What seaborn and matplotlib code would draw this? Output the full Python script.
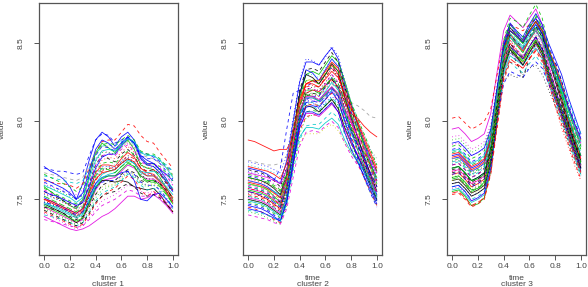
import matplotlib
matplotlib.use("Agg")
import matplotlib.pyplot as plt
import seaborn as sns
import pandas as pd

# ---------------- data ----------------
time_grid = [0.0, 0.05, 0.10, 0.15, 0.20, 0.25, 0.30, 0.35, 0.40, 0.45, 0.50,
             0.55, 0.60, 0.65, 0.70, 0.75, 0.80, 0.85, 0.90, 0.95, 1.0]

cluster1 = [
    [7.71, 7.68, 7.66, 7.63, 7.58, 7.50, 7.60, 7.75, 7.88, 7.93, 7.90, 7.84, 7.90, 7.93, 7.88, 7.78, 7.75, 7.73, 7.69, 7.66, 7.62],
    [7.70, 7.69, 7.68, 7.68, 7.67, 7.66, 7.67, 7.78, 7.88, 7.92, 7.91, 7.86, 7.88, 7.90, 7.86, 7.80, 7.79, 7.77, 7.74, 7.71, 7.68],
    [7.62, 7.61, 7.60, 7.60, 7.59, 7.57, 7.60, 7.70, 7.80, 7.87, 7.88, 7.88, 7.93, 7.98, 7.97, 7.91, 7.87, 7.86, 7.80, 7.75, 7.70],
    [7.65, 7.64, 7.63, 7.62, 7.61, 7.60, 7.62, 7.70, 7.79, 7.84, 7.85, 7.84, 7.87, 7.89, 7.85, 7.80, 7.79, 7.78, 7.75, 7.72, 7.68],
    [7.58, 7.55, 7.52, 7.49, 7.46, 7.44, 7.50, 7.65, 7.80, 7.86, 7.83, 7.80, 7.85, 7.88, 7.82, 7.72, 7.70, 7.69, 7.64, 7.57, 7.50],
    [7.60, 7.58, 7.57, 7.56, 7.55, 7.53, 7.56, 7.66, 7.76, 7.81, 7.80, 7.78, 7.83, 7.86, 7.83, 7.75, 7.72, 7.73, 7.70, 7.65, 7.60],
    [7.55, 7.53, 7.51, 7.49, 7.47, 7.45, 7.48, 7.60, 7.72, 7.78, 7.76, 7.74, 7.79, 7.82, 7.78, 7.70, 7.68, 7.69, 7.66, 7.60, 7.55],
    [7.50, 7.48, 7.46, 7.44, 7.42, 7.39, 7.42, 7.55, 7.67, 7.72, 7.72, 7.71, 7.76, 7.80, 7.77, 7.70, 7.67, 7.66, 7.62, 7.57, 7.51],
    [7.53, 7.52, 7.50, 7.48, 7.46, 7.44, 7.46, 7.56, 7.66, 7.71, 7.71, 7.70, 7.74, 7.77, 7.74, 7.68, 7.66, 7.66, 7.63, 7.59, 7.55],
    [7.48, 7.46, 7.44, 7.42, 7.40, 7.38, 7.40, 7.50, 7.60, 7.66, 7.68, 7.69, 7.73, 7.76, 7.73, 7.67, 7.65, 7.65, 7.62, 7.58, 7.53],
    [7.57, 7.55, 7.53, 7.51, 7.49, 7.47, 7.49, 7.58, 7.68, 7.73, 7.74, 7.73, 7.77, 7.81, 7.79, 7.73, 7.72, 7.73, 7.71, 7.67, 7.62],
    [7.45, 7.43, 7.41, 7.39, 7.37, 7.35, 7.37, 7.46, 7.56, 7.62, 7.63, 7.64, 7.68, 7.72, 7.70, 7.65, 7.63, 7.63, 7.60, 7.55, 7.49],
    [7.47, 7.45, 7.43, 7.41, 7.38, 7.35, 7.38, 7.48, 7.58, 7.62, 7.62, 7.61, 7.62, 7.61, 7.58, 7.57, 7.56, 7.57, 7.53, 7.47, 7.42],
    [7.39, 7.37, 7.35, 7.33, 7.31, 7.30, 7.31, 7.33, 7.36, 7.39, 7.41, 7.44, 7.48, 7.52, 7.52, 7.50, 7.51, 7.53, 7.50, 7.46, 7.41],
    [7.42, 7.40, 7.38, 7.36, 7.34, 7.32, 7.34, 7.40, 7.47, 7.52, 7.55, 7.57, 7.61, 7.65, 7.63, 7.56, 7.52, 7.55, 7.52, 7.47, 7.42],
    [7.51, 7.49, 7.47, 7.45, 7.43, 7.41, 7.44, 7.52, 7.60, 7.64, 7.65, 7.65, 7.67, 7.68, 7.62, 7.50, 7.49, 7.53, 7.54, 7.50, 7.45],
    [7.44, 7.42, 7.40, 7.38, 7.36, 7.34, 7.36, 7.43, 7.51, 7.56, 7.58, 7.59, 7.63, 7.67, 7.65, 7.60, 7.58, 7.59, 7.57, 7.53, 7.48],
    [7.40, 7.39, 7.38, 7.37, 7.35, 7.33, 7.35, 7.42, 7.49, 7.54, 7.56, 7.58, 7.62, 7.66, 7.64, 7.59, 7.56, 7.57, 7.55, 7.50, 7.44],
    [7.56, 7.54, 7.52, 7.50, 7.48, 7.46, 7.49, 7.60, 7.72, 7.78, 7.79, 7.78, 7.82, 7.85, 7.81, 7.74, 7.72, 7.73, 7.70, 7.65, 7.59],
    [7.49, 7.47, 7.45, 7.43, 7.41, 7.38, 7.41, 7.52, 7.63, 7.69, 7.70, 7.69, 7.73, 7.76, 7.73, 7.66, 7.63, 7.63, 7.60, 7.55, 7.49],
    [7.54, 7.52, 7.50, 7.48, 7.46, 7.43, 7.46, 7.57, 7.69, 7.75, 7.77, 7.76, 7.80, 7.84, 7.80, 7.72, 7.70, 7.71, 7.67, 7.62, 7.56],
    [7.46, 7.44, 7.42, 7.40, 7.38, 7.36, 7.38, 7.47, 7.57, 7.63, 7.65, 7.65, 7.69, 7.73, 7.71, 7.65, 7.62, 7.62, 7.59, 7.54, 7.47],
    [7.61, 7.59, 7.57, 7.55, 7.53, 7.50, 7.53, 7.65, 7.78, 7.84, 7.83, 7.81, 7.86, 7.90, 7.86, 7.78, 7.76, 7.76, 7.73, 7.68, 7.63],
    [7.52, 7.51, 7.50, 7.49, 7.48, 7.47, 7.49, 7.56, 7.64, 7.69, 7.71, 7.72, 7.75, 7.78, 7.76, 7.71, 7.70, 7.71, 7.69, 7.66, 7.61],
    [7.43, 7.41, 7.39, 7.37, 7.35, 7.33, 7.35, 7.41, 7.48, 7.52, 7.54, 7.55, 7.58, 7.60, 7.58, 7.54, 7.52, 7.53, 7.51, 7.47, 7.42],
    [7.50, 7.49, 7.47, 7.45, 7.43, 7.41, 7.44, 7.54, 7.63, 7.67, 7.68, 7.69, 7.73, 7.76, 7.74, 7.68, 7.65, 7.65, 7.61, 7.55, 7.48],
    [7.41, 7.39, 7.37, 7.35, 7.33, 7.31, 7.33, 7.38, 7.44, 7.49, 7.51, 7.53, 7.56, 7.59, 7.58, 7.55, 7.54, 7.55, 7.53, 7.49, 7.44],
    [7.66, 7.64, 7.62, 7.60, 7.58, 7.55, 7.58, 7.68, 7.79, 7.85, 7.86, 7.85, 7.88, 7.91, 7.88, 7.81, 7.79, 7.79, 7.76, 7.71, 7.65],
    [7.55, 7.53, 7.52, 7.50, 7.48, 7.46, 7.48, 7.58, 7.70, 7.77, 7.79, 7.79, 7.84, 7.89, 7.86, 7.77, 7.73, 7.73, 7.69, 7.63, 7.56],
    [7.47, 7.46, 7.45, 7.43, 7.41, 7.39, 7.41, 7.49, 7.58, 7.64, 7.66, 7.67, 7.71, 7.75, 7.73, 7.68, 7.67, 7.68, 7.66, 7.62, 7.57],
    [7.58, 7.57, 7.56, 7.54, 7.52, 7.50, 7.52, 7.62, 7.74, 7.80, 7.80, 7.79, 7.83, 7.87, 7.84, 7.76, 7.73, 7.72, 7.68, 7.62, 7.56],
    [7.45, 7.44, 7.43, 7.41, 7.39, 7.37, 7.39, 7.45, 7.53, 7.59, 7.61, 7.62, 7.66, 7.69, 7.67, 7.62, 7.61, 7.62, 7.60, 7.56, 7.51],
    [7.63, 7.61, 7.59, 7.57, 7.54, 7.50, 7.54, 7.68, 7.82, 7.88, 7.86, 7.82, 7.86, 7.90, 7.86, 7.76, 7.72, 7.71, 7.67, 7.61, 7.55],
    [7.50, 7.48, 7.46, 7.44, 7.42, 7.40, 7.43, 7.52, 7.62, 7.68, 7.70, 7.70, 7.74, 7.78, 7.76, 7.70, 7.68, 7.69, 7.66, 7.61, 7.56],
    [7.37, 7.36, 7.35, 7.34, 7.33, 7.32, 7.33, 7.37, 7.42, 7.46, 7.48, 7.50, 7.53, 7.56, 7.55, 7.52, 7.52, 7.54, 7.52, 7.48, 7.43],
    [7.59, 7.57, 7.55, 7.53, 7.51, 7.48, 7.51, 7.63, 7.75, 7.81, 7.82, 7.81, 7.85, 7.89, 7.87, 7.80, 7.78, 7.78, 7.75, 7.70, 7.64],
    [7.52, 7.50, 7.48, 7.46, 7.44, 7.42, 7.45, 7.55, 7.65, 7.70, 7.69, 7.67, 7.71, 7.74, 7.71, 7.64, 7.61, 7.61, 7.58, 7.53, 7.47],
    [7.44, 7.43, 7.41, 7.39, 7.37, 7.35, 7.38, 7.46, 7.54, 7.58, 7.59, 7.60, 7.64, 7.68, 7.66, 7.61, 7.59, 7.60, 7.58, 7.54, 7.50],
    [7.67, 7.66, 7.65, 7.64, 7.63, 7.62, 7.64, 7.72, 7.80, 7.84, 7.84, 7.83, 7.85, 7.87, 7.84, 7.79, 7.77, 7.76, 7.73, 7.70, 7.66],
    [7.48, 7.47, 7.46, 7.44, 7.42, 7.40, 7.42, 7.49, 7.57, 7.61, 7.62, 7.62, 7.65, 7.68, 7.66, 7.61, 7.59, 7.59, 7.56, 7.51, 7.45],
]

cluster2 = [
    [7.70, 7.69, 7.68, 7.66, 7.63, 7.60, 7.75, 8.00, 8.25, 8.38, 8.38, 8.36, 8.42, 8.47, 8.40, 8.24, 8.10, 7.98, 7.86, 7.74, 7.62],
    [7.88, 7.87, 7.85, 7.83, 7.81, 7.82, 7.82, 7.90, 8.05, 8.18, 8.20, 8.19, 8.23, 8.27, 8.22, 8.12, 8.05, 8.02, 7.97, 7.93, 7.90],
    [7.75, 7.74, 7.73, 7.72, 7.72, 7.73, 7.78, 7.95, 8.10, 8.18, 8.18, 8.16, 8.20, 8.24, 8.20, 8.14, 8.12, 8.10, 8.07, 8.03, 8.02],
    [7.65, 7.64, 7.63, 7.62, 7.62, 7.70, 7.95, 8.18, 8.20, 8.22, 8.25, 8.26, 8.30, 8.35, 8.30, 8.18, 8.06, 7.96, 7.86, 7.77, 7.68],
    [7.60, 7.59, 7.58, 7.56, 7.52, 7.48, 7.62, 7.88, 8.15, 8.30, 8.32, 8.30, 8.36, 8.42, 8.38, 8.26, 8.12, 7.98, 7.84, 7.72, 7.60],
    [7.55, 7.54, 7.52, 7.50, 7.47, 7.44, 7.58, 7.84, 8.10, 8.24, 8.26, 8.24, 8.30, 8.36, 8.30, 8.15, 8.00, 7.86, 7.74, 7.62, 7.52],
    [7.58, 7.57, 7.56, 7.54, 7.51, 7.48, 7.60, 7.82, 8.04, 8.16, 8.18, 8.17, 8.22, 8.27, 8.21, 8.08, 7.95, 7.84, 7.74, 7.64, 7.55],
    [7.66, 7.65, 7.64, 7.63, 7.60, 7.57, 7.67, 7.86, 8.05, 8.14, 8.14, 8.12, 8.16, 8.20, 8.15, 8.04, 7.94, 7.86, 7.78, 7.70, 7.62],
    [7.52, 7.51, 7.50, 7.48, 7.45, 7.42, 7.55, 7.80, 8.02, 8.12, 8.12, 8.10, 8.15, 8.20, 8.14, 8.00, 7.88, 7.78, 7.68, 7.58, 7.49],
    [7.62, 7.61, 7.60, 7.58, 7.55, 7.51, 7.64, 7.90, 8.17, 8.33, 8.31, 8.26, 8.33, 8.40, 8.35, 8.20, 8.04, 7.90, 7.76, 7.64, 7.53],
    [7.48, 7.47, 7.46, 7.44, 7.41, 7.38, 7.50, 7.74, 7.96, 8.06, 8.07, 8.06, 8.10, 8.14, 8.09, 7.96, 7.86, 7.77, 7.68, 7.59, 7.50],
    [7.50, 7.49, 7.48, 7.46, 7.43, 7.40, 7.52, 7.76, 8.00, 8.10, 8.09, 8.06, 8.10, 8.14, 8.08, 7.96, 7.86, 7.78, 7.70, 7.60, 7.50],
    [7.45, 7.44, 7.42, 7.40, 7.37, 7.35, 7.48, 7.72, 7.94, 8.03, 8.04, 8.04, 8.08, 8.12, 8.06, 7.93, 7.82, 7.73, 7.64, 7.55, 7.46],
    [7.57, 7.56, 7.55, 7.53, 7.50, 7.47, 7.59, 7.82, 8.05, 8.15, 8.15, 8.13, 8.18, 8.22, 8.16, 8.04, 7.93, 7.85, 7.76, 7.67, 7.58],
    [7.60, 7.59, 7.58, 7.57, 7.55, 7.53, 7.60, 7.75, 7.90, 7.96, 7.96, 7.95, 7.99, 8.02, 7.98, 7.88, 7.80, 7.74, 7.68, 7.62, 7.56],
    [7.68, 7.67, 7.66, 7.65, 7.63, 7.61, 7.70, 7.88, 8.06, 8.14, 8.12, 8.08, 8.12, 8.16, 8.12, 8.02, 7.94, 7.87, 7.80, 7.73, 7.66],
    [7.42, 7.41, 7.40, 7.38, 7.36, 7.34, 7.46, 7.70, 7.92, 8.02, 8.04, 8.05, 8.10, 8.15, 8.10, 7.98, 7.86, 7.75, 7.64, 7.54, 7.46],
    [7.54, 7.53, 7.52, 7.50, 7.47, 7.44, 7.57, 7.82, 8.06, 8.18, 8.20, 8.20, 8.25, 8.30, 8.24, 8.10, 7.97, 7.86, 7.76, 7.66, 7.56],
    [7.63, 7.62, 7.61, 7.60, 7.58, 7.55, 7.64, 7.85, 8.06, 8.16, 8.17, 8.16, 8.21, 8.26, 8.21, 8.09, 7.99, 7.91, 7.83, 7.75, 7.67],
    [7.40, 7.39, 7.38, 7.37, 7.35, 7.34, 7.44, 7.64, 7.84, 7.93, 7.94, 7.93, 7.97, 8.00, 7.96, 7.86, 7.78, 7.72, 7.66, 7.59, 7.52],
    [7.72, 7.71, 7.70, 7.69, 7.67, 7.64, 7.74, 7.96, 8.18, 8.30, 8.30, 8.28, 8.34, 8.40, 8.36, 8.24, 8.12, 8.02, 7.92, 7.82, 7.72],
    [7.47, 7.46, 7.45, 7.43, 7.40, 7.37, 7.50, 7.76, 8.02, 8.14, 8.16, 8.16, 8.22, 8.28, 8.22, 8.06, 7.90, 7.76, 7.64, 7.54, 7.45],
    [7.56, 7.55, 7.54, 7.52, 7.49, 7.46, 7.58, 7.82, 8.06, 8.17, 8.16, 8.13, 8.17, 8.22, 8.17, 8.06, 7.96, 7.88, 7.80, 7.72, 7.64],
    [7.61, 7.60, 7.59, 7.57, 7.54, 7.51, 7.63, 7.88, 8.12, 8.24, 8.26, 8.26, 8.32, 8.38, 8.34, 8.22, 8.10, 7.99, 7.88, 7.78, 7.68],
    [7.64, 7.63, 7.62, 7.60, 7.57, 7.53, 7.66, 7.92, 8.18, 8.30, 8.28, 8.24, 8.30, 8.37, 8.32, 8.16, 8.02, 7.90, 7.78, 7.66, 7.55],
    [7.51, 7.50, 7.49, 7.47, 7.44, 7.41, 7.52, 7.74, 7.96, 8.05, 8.05, 8.03, 8.07, 8.11, 8.06, 7.95, 7.86, 7.79, 7.71, 7.63, 7.55],
    [7.58, 7.57, 7.56, 7.54, 7.51, 7.49, 7.60, 7.82, 8.04, 8.12, 8.10, 8.07, 8.11, 8.15, 8.11, 8.01, 7.92, 7.85, 7.78, 7.70, 7.62],
    [7.44, 7.43, 7.42, 7.40, 7.38, 7.36, 7.48, 7.72, 7.96, 8.06, 8.06, 8.04, 8.08, 8.12, 8.06, 7.93, 7.82, 7.74, 7.65, 7.56, 7.47],
    [7.66, 7.65, 7.64, 7.62, 7.59, 7.56, 7.68, 7.92, 8.15, 8.26, 8.26, 8.24, 8.30, 8.36, 8.32, 8.22, 8.12, 8.02, 7.92, 7.82, 7.72],
    [7.60, 7.59, 7.58, 7.56, 7.54, 7.52, 7.58, 7.72, 7.86, 7.92, 7.92, 7.92, 7.96, 7.98, 7.94, 7.86, 7.80, 7.76, 7.70, 7.64, 7.58],
    [7.69, 7.68, 7.67, 7.65, 7.62, 7.58, 7.70, 7.95, 8.20, 8.33, 8.34, 8.32, 8.38, 8.44, 8.38, 8.22, 8.08, 7.95, 7.82, 7.70, 7.58],
    [7.53, 7.52, 7.51, 7.49, 7.46, 7.43, 7.55, 7.78, 8.00, 8.10, 8.11, 8.10, 8.14, 8.18, 8.13, 8.01, 7.90, 7.81, 7.72, 7.63, 7.54],
    [7.62, 7.61, 7.60, 7.59, 7.57, 7.55, 7.64, 7.84, 8.04, 8.12, 8.12, 8.10, 8.15, 8.19, 8.16, 8.07, 8.00, 7.94, 7.88, 7.82, 7.76],
    [7.59, 7.58, 7.57, 7.55, 7.52, 7.49, 7.61, 7.86, 8.10, 8.21, 8.21, 8.19, 8.24, 8.30, 8.25, 8.12, 8.00, 7.90, 7.80, 7.70, 7.60],
    [7.49, 7.48, 7.47, 7.45, 7.42, 7.39, 7.52, 7.78, 8.03, 8.15, 8.15, 8.13, 8.19, 8.25, 8.20, 8.06, 7.93, 7.82, 7.72, 7.62, 7.52],
    [7.74, 7.73, 7.72, 7.71, 7.69, 7.67, 7.78, 8.02, 8.26, 8.40, 8.39, 8.36, 8.41, 8.48, 8.42, 8.26, 8.12, 8.00, 7.88, 7.76, 7.65],
    [7.57, 7.56, 7.55, 7.53, 7.50, 7.46, 7.59, 7.84, 8.09, 8.22, 8.23, 8.22, 8.28, 8.34, 8.29, 8.16, 8.04, 7.93, 7.82, 7.72, 7.62],
    [7.46, 7.45, 7.44, 7.42, 7.39, 7.36, 7.49, 7.74, 7.98, 8.09, 8.10, 8.09, 8.14, 8.19, 8.13, 8.00, 7.88, 7.78, 7.68, 7.58, 7.49],
    [7.64, 7.63, 7.62, 7.61, 7.58, 7.55, 7.66, 7.88, 8.10, 8.20, 8.20, 8.18, 8.23, 8.28, 8.24, 8.14, 8.04, 7.95, 7.86, 7.77, 7.68],
    [7.52, 7.51, 7.50, 7.48, 7.45, 7.42, 7.54, 7.80, 8.06, 8.20, 8.22, 8.22, 8.28, 8.34, 8.28, 8.12, 7.96, 7.82, 7.70, 7.58, 7.48],
    [7.67, 7.66, 7.65, 7.64, 7.62, 7.60, 7.69, 7.88, 8.07, 8.16, 8.16, 8.14, 8.18, 8.22, 8.18, 8.08, 7.99, 7.91, 7.83, 7.75, 7.67],
    [7.43, 7.42, 7.41, 7.40, 7.38, 7.36, 7.47, 7.68, 7.88, 7.97, 7.98, 7.98, 8.02, 8.06, 8.02, 7.92, 7.83, 7.75, 7.67, 7.59, 7.51],
    [7.60, 7.59, 7.58, 7.56, 7.53, 7.50, 7.62, 7.87, 8.12, 8.26, 8.27, 8.26, 8.31, 8.37, 8.33, 8.20, 8.06, 7.94, 7.82, 7.70, 7.58],
    [7.55, 7.54, 7.53, 7.51, 7.48, 7.45, 7.57, 7.80, 8.02, 8.12, 8.13, 8.12, 8.16, 8.21, 8.16, 8.04, 7.94, 7.85, 7.76, 7.67, 7.58],
    [7.71, 7.70, 7.69, 7.68, 7.66, 7.63, 7.73, 7.94, 8.14, 8.24, 8.24, 8.22, 8.27, 8.32, 8.28, 8.18, 8.08, 8.00, 7.90, 7.80, 7.70],
    [7.50, 7.49, 7.48, 7.46, 7.43, 7.40, 7.53, 7.78, 8.04, 8.17, 8.18, 8.17, 8.22, 8.28, 8.22, 8.08, 7.94, 7.82, 7.71, 7.61, 7.51],
]

cluster3 = [
    [7.95, 7.96, 7.92, 7.87, 7.89, 7.92, 8.05, 8.32, 8.58, 8.68, 8.64, 8.60, 8.66, 8.72, 8.62, 8.46, 8.34, 8.22, 8.08, 7.96, 7.86],
    [8.02, 8.03, 7.99, 7.95, 7.97, 8.00, 8.08, 8.30, 8.52, 8.62, 8.60, 8.58, 8.62, 8.66, 8.58, 8.42, 8.28, 8.16, 8.04, 7.94, 7.85],
    [7.80, 7.81, 7.77, 7.72, 7.74, 7.77, 7.92, 8.22, 8.52, 8.66, 8.64, 8.60, 8.68, 8.75, 8.66, 8.48, 8.32, 8.18, 8.04, 7.92, 7.82],
    [7.72, 7.73, 7.69, 7.64, 7.66, 7.70, 7.84, 8.10, 8.36, 8.46, 8.38, 8.28, 8.40, 8.50, 8.46, 8.40, 8.38, 8.26, 8.10, 7.96, 7.84],
    [7.76, 7.77, 7.73, 7.68, 7.70, 7.73, 7.88, 8.18, 8.48, 8.62, 8.57, 8.52, 8.60, 8.66, 8.58, 8.44, 8.30, 8.16, 8.02, 7.90, 7.78],
    [7.66, 7.67, 7.63, 7.58, 7.60, 7.63, 7.78, 8.08, 8.38, 8.50, 8.44, 8.40, 8.48, 8.54, 8.46, 8.32, 8.20, 8.08, 7.96, 7.84, 7.72],
    [7.70, 7.71, 7.67, 7.62, 7.64, 7.67, 7.82, 8.12, 8.42, 8.56, 8.52, 8.48, 8.56, 8.62, 8.56, 8.44, 8.34, 8.22, 8.08, 7.96, 7.84],
    [7.85, 7.86, 7.82, 7.78, 7.80, 7.82, 7.94, 8.18, 8.42, 8.52, 8.49, 8.46, 8.52, 8.57, 8.50, 8.38, 8.26, 8.14, 8.02, 7.92, 7.83],
    [7.55, 7.56, 7.52, 7.46, 7.47, 7.51, 7.68, 8.00, 8.32, 8.46, 8.42, 8.38, 8.46, 8.52, 8.44, 8.30, 8.18, 8.06, 7.94, 7.82, 7.70],
    [7.62, 7.63, 7.59, 7.54, 7.56, 7.59, 7.75, 8.06, 8.36, 8.48, 8.42, 8.36, 8.44, 8.50, 8.42, 8.28, 8.16, 8.04, 7.92, 7.80, 7.68],
    [7.82, 7.83, 7.79, 7.74, 7.76, 7.79, 7.92, 8.20, 8.48, 8.60, 8.56, 8.53, 8.60, 8.66, 8.60, 8.48, 8.38, 8.26, 8.12, 8.00, 7.90],
    [7.58, 7.59, 7.55, 7.50, 7.52, 7.55, 7.70, 8.00, 8.28, 8.38, 8.34, 8.31, 8.37, 8.42, 8.36, 8.24, 8.12, 8.00, 7.88, 7.76, 7.65],
    [7.74, 7.75, 7.71, 7.66, 7.68, 7.71, 7.86, 8.14, 8.42, 8.52, 8.46, 8.40, 8.48, 8.55, 8.48, 8.34, 8.20, 8.06, 7.92, 7.80, 7.70],
    [7.68, 7.69, 7.65, 7.60, 7.62, 7.65, 7.80, 8.10, 8.40, 8.54, 8.50, 8.46, 8.53, 8.59, 8.51, 8.36, 8.22, 8.08, 7.94, 7.82, 7.71],
    [7.88, 7.89, 7.85, 7.80, 7.82, 7.85, 7.96, 8.22, 8.46, 8.56, 8.53, 8.50, 8.56, 8.61, 8.55, 8.42, 8.30, 8.18, 8.06, 7.96, 7.88],
    [7.64, 7.65, 7.61, 7.56, 7.58, 7.62, 7.76, 8.02, 8.26, 8.30, 8.28, 8.30, 8.34, 8.36, 8.30, 8.20, 8.10, 8.00, 7.88, 7.76, 7.66],
    [7.78, 7.79, 7.75, 7.70, 7.72, 7.75, 7.90, 8.20, 8.50, 8.63, 8.58, 8.54, 8.62, 8.69, 8.62, 8.50, 8.40, 8.30, 8.16, 8.04, 7.92],
    [7.53, 7.54, 7.50, 7.45, 7.47, 7.50, 7.66, 7.96, 8.26, 8.38, 8.36, 8.34, 8.40, 8.45, 8.38, 8.24, 8.10, 7.98, 7.86, 7.74, 7.63],
    [7.80, 7.81, 7.77, 7.72, 7.74, 7.77, 7.90, 8.16, 8.42, 8.52, 8.48, 8.44, 8.50, 8.56, 8.50, 8.38, 8.28, 8.18, 8.06, 7.96, 7.87],
    [7.64, 7.65, 7.61, 7.56, 7.57, 7.61, 7.77, 8.08, 8.40, 8.54, 8.49, 8.44, 8.52, 8.60, 8.54, 8.42, 8.30, 8.16, 8.00, 7.86, 7.74],
    [7.72, 7.73, 7.69, 7.64, 7.66, 7.69, 7.84, 8.12, 8.40, 8.50, 8.46, 8.42, 8.48, 8.53, 8.46, 8.32, 8.20, 8.08, 7.96, 7.86, 7.77],
    [7.70, 7.71, 7.67, 7.62, 7.64, 7.67, 7.83, 8.14, 8.46, 8.60, 8.55, 8.50, 8.58, 8.64, 8.56, 8.40, 8.26, 8.12, 7.98, 7.86, 7.75],
    [7.60, 7.61, 7.57, 7.52, 7.54, 7.57, 7.72, 8.02, 8.32, 8.44, 8.40, 8.36, 8.43, 8.48, 8.42, 8.28, 8.16, 8.04, 7.92, 7.80, 7.69],
    [7.77, 7.78, 7.74, 7.69, 7.71, 7.74, 7.88, 8.16, 8.44, 8.56, 8.50, 8.45, 8.52, 8.58, 8.52, 8.40, 8.28, 8.14, 8.00, 7.88, 7.76],
    [7.56, 7.57, 7.53, 7.48, 7.50, 7.53, 7.69, 8.00, 8.30, 8.42, 8.39, 8.36, 8.42, 8.47, 8.40, 8.26, 8.14, 8.02, 7.90, 7.78, 7.66],
    [7.84, 7.85, 7.81, 7.76, 7.78, 7.81, 7.94, 8.22, 8.50, 8.62, 8.58, 8.54, 8.61, 8.68, 8.60, 8.46, 8.32, 8.18, 8.04, 7.92, 7.82],
    [7.62, 7.63, 7.59, 7.54, 7.55, 7.59, 7.74, 8.04, 8.34, 8.46, 8.42, 8.38, 8.45, 8.50, 8.43, 8.30, 8.18, 8.06, 7.94, 7.82, 7.72],
    [7.67, 7.68, 7.64, 7.59, 7.61, 7.64, 7.79, 8.08, 8.38, 8.50, 8.45, 8.41, 8.48, 8.54, 8.47, 8.34, 8.22, 8.10, 7.98, 7.86, 7.74],
    [7.58, 7.59, 7.55, 7.49, 7.51, 7.54, 7.70, 8.02, 8.34, 8.48, 8.44, 8.40, 8.48, 8.54, 8.46, 8.32, 8.20, 8.08, 7.96, 7.84, 7.72],
    [7.90, 7.91, 7.87, 7.82, 7.84, 7.87, 7.98, 8.24, 8.50, 8.60, 8.56, 8.52, 8.58, 8.63, 8.56, 8.42, 8.30, 8.20, 8.08, 7.98, 7.90],
    [7.68, 7.69, 7.65, 7.60, 7.62, 7.65, 7.80, 8.10, 8.40, 8.52, 8.46, 8.40, 8.46, 8.52, 8.44, 8.26, 8.10, 7.96, 7.84, 7.72, 7.62],
    [7.74, 7.75, 7.71, 7.66, 7.68, 7.71, 7.86, 8.16, 8.46, 8.58, 8.54, 8.50, 8.58, 8.64, 8.58, 8.46, 8.36, 8.26, 8.14, 8.02, 7.92],
    [7.70, 7.71, 7.67, 7.62, 7.63, 7.66, 7.82, 8.12, 8.44, 8.58, 8.54, 8.50, 8.58, 8.64, 8.58, 8.46, 8.34, 8.20, 8.04, 7.90, 7.78],
    [7.76, 7.77, 7.73, 7.68, 7.70, 7.73, 7.86, 8.12, 8.38, 8.48, 8.45, 8.42, 8.48, 8.53, 8.48, 8.38, 8.28, 8.16, 8.04, 7.94, 7.85],
    [7.66, 7.67, 7.63, 7.58, 7.60, 7.63, 7.76, 8.02, 8.24, 8.32, 8.30, 8.28, 8.34, 8.38, 8.34, 8.24, 8.14, 8.04, 7.92, 7.80, 7.70],
    [7.60, 7.61, 7.57, 7.52, 7.54, 7.57, 7.73, 8.04, 8.34, 8.46, 8.41, 8.36, 8.44, 8.51, 8.44, 8.30, 8.18, 8.06, 7.94, 7.82, 7.70],
    [7.73, 7.74, 7.70, 7.65, 7.67, 7.70, 7.85, 8.14, 8.44, 8.56, 8.51, 8.46, 8.54, 8.60, 8.53, 8.40, 8.28, 8.16, 8.03, 7.91, 7.80],
    [7.63, 7.64, 7.60, 7.55, 7.57, 7.60, 7.75, 8.05, 8.35, 8.47, 8.43, 8.39, 8.46, 8.52, 8.45, 8.32, 8.20, 8.08, 7.96, 7.84, 7.73],
    [7.79, 7.80, 7.76, 7.71, 7.73, 7.76, 7.90, 8.18, 8.46, 8.58, 8.55, 8.51, 8.58, 8.64, 8.58, 8.46, 8.36, 8.24, 8.10, 7.98, 7.88],
    [7.57, 7.58, 7.54, 7.49, 7.50, 7.54, 7.70, 8.02, 8.32, 8.44, 8.40, 8.37, 8.44, 8.50, 8.43, 8.28, 8.16, 8.04, 7.92, 7.80, 7.68],
    [7.86, 7.87, 7.83, 7.78, 7.80, 7.83, 7.95, 8.22, 8.48, 8.58, 8.55, 8.51, 8.57, 8.62, 8.56, 8.44, 8.34, 8.22, 8.10, 7.99, 7.89],
    [7.69, 7.70, 7.66, 7.61, 7.63, 7.66, 7.81, 8.11, 8.42, 8.55, 8.51, 8.47, 8.54, 8.61, 8.54, 8.40, 8.28, 8.14, 8.00, 7.88, 7.76],
    [7.65, 7.66, 7.62, 7.57, 7.59, 7.62, 7.77, 8.06, 8.36, 8.47, 8.42, 8.37, 8.44, 8.50, 8.43, 8.30, 8.18, 8.06, 7.94, 7.82, 7.71],
    [7.75, 7.76, 7.72, 7.67, 7.69, 7.72, 7.87, 8.16, 8.46, 8.60, 8.56, 8.52, 8.60, 8.67, 8.60, 8.46, 8.34, 8.22, 8.08, 7.96, 7.84],
    [7.54, 7.55, 7.51, 7.46, 7.48, 7.51, 7.67, 7.98, 8.28, 8.40, 8.37, 8.34, 8.40, 8.46, 8.40, 8.26, 8.14, 8.02, 7.90, 7.78, 7.67],
    [7.81, 7.82, 7.78, 7.73, 7.75, 7.78, 7.91, 8.18, 8.44, 8.54, 8.50, 8.47, 8.53, 8.58, 8.52, 8.40, 8.30, 8.20, 8.08, 7.97, 7.87],
]

cluster_labels = ["cluster 1", "cluster 2", "cluster 3"]
x_ticks = [0.0, 0.2, 0.4, 0.6, 0.8, 1.0]
x_tick_labels = ["0.0", "0.2", "0.4", "0.6", "0.8", "1.0"]
y_ticks = [7.5, 8.0, 8.5]
y_tick_labels = ["7.5", "8.0", "8.5"]
x_label = "time"
y_label = "value"

# ---------------- styling ----------------
sns.set_theme(style="white")
plt.rcParams["font.family"] = ["Liberation Sans", "DejaVu Sans"]

line_colors = ["#000000", "#FF0000", "#00C000", "#0000FF", "#00C8C8", "#E000E0",
               "#C8C800", "#9E9E9E"]
line_dashes = ["", (4, 4), (1, 3), (1, 3, 4, 3), (7, 3)]

# colour / line-type index of each curve (K R G B C M Y Gr ; solid dash dot dotdash longdash)
color_idx = [
    [3, 3, 1, 4, 2, 5, 0, 1, 3, 4, 2, 5, 0, 5, 1, 3, 2, 4, 5, 0, 1, 2, 3, 4, 0, 1, 5, 2, 3, 4,
     2, 0, 3, 1, 5, 4, 2, 6, 7, 3],
    [3, 1, 7, 3, 2, 1, 0, 5, 4, 3, 2, 0, 1, 5, 4, 3, 2, 0, 1, 5, 4, 3, 2, 1, 0, 5, 4, 3, 2, 6,
     0, 1, 7, 5, 4, 3, 1, 3, 2, 0, 5, 4, 6, 3, 1, 2],
    [5, 1, 2, 0, 3, 1, 4, 5, 2, 0, 3, 4, 1, 5, 2, 0, 3, 1, 4, 2, 5, 0, 3, 1, 4, 2, 6, 0, 3, 5,
     1, 4, 2, 7, 3, 0, 4, 2, 1, 5, 3, 0, 6, 2, 1, 4],
]
style_idx = [
    [0, 1, 1, 1, 0, 2, 1, 0, 2, 0, 1, 0, 0, 0, 1, 0, 2, 1, 1, 2, 2, 0, 1, 2, 1, 0, 2, 1, 0, 0,
     2, 1, 0, 3, 1, 0, 4, 2, 1, 3],
    [0, 0, 1, 1, 0, 0, 1, 2, 1, 0, 1, 0, 1, 0, 0, 2, 2, 2, 2, 1, 2, 1, 0, 0, 0, 0, 1, 0, 1, 2,
     1, 1, 2, 1, 0, 2, 3, 0, 4, 2, 0, 1, 3, 4, 0, 2],
    [0, 1, 1, 1, 0, 0, 0, 2, 0, 0, 1, 1, 2, 0, 2, 2, 0, 1, 2, 0, 1, 0, 2, 0, 0, 1, 2, 1, 0, 2,
     2, 1, 0, 1, 1, 0, 3, 4, 0, 2, 0, 1, 2, 3, 4, 0],
]

fig = plt.figure(figsize=(5.88, 2.87), dpi=100)
lefts = [39 / 588, 243 / 588, 447 / 588]
width = 139 / 588
bottom = 32 / 287
height = 252 / 287

for k, curves in enumerate([cluster1, cluster2, cluster3]):
    rows = []
    for i, vals in enumerate(curves):
        cid = f"c{i:03d}"
        for t, v in zip(time_grid, vals):
            rows.append({"time": t, "value": v, "curve": cid})
    df = pd.DataFrame(rows)
    ids = [f"c{i:03d}" for i in range(len(curves))]
    pal = {cid: line_colors[color_idx[k][i]] for i, cid in enumerate(ids)}
    dsh = {cid: line_dashes[style_idx[k][i]] for i, cid in enumerate(ids)}

    ax = fig.add_axes([lefts[k], bottom, width, height])
    sns.lineplot(data=df, x="time", y="value", hue="curve", style="curve",
                 palette=pal, dashes=dsh, estimator=None, sort=False,
                 legend=False, linewidth=0.6, alpha=0.9, ax=ax)

    ax.set_xlim(-0.04, 1.04)
    ax.set_ylim(7.143, 8.758)
    ax.set_xticks(x_ticks)
    ax.set_xticklabels(x_tick_labels)
    ax.set_yticks(y_ticks)
    ax.set_yticklabels(y_tick_labels, rotation=90, va="center")
    ax.tick_params(axis="both", which="major", bottom=True, left=True,
                   direction="out", length=3.5, width=0.7, color="#555555",
                   labelsize=6, labelcolor="#444444")
    ax.tick_params(axis="x", pad=2.5)
    ax.tick_params(axis="y", pad=7)
    for sp in ax.spines.values():
        sp.set_visible(True)
        sp.set_color("#555555")
        sp.set_linewidth(0.9)
    ax.set_xlabel(f"{x_label}\n{cluster_labels[k]}", fontsize=6, color="#444444",
                  linespacing=1.0, labelpad=3)
    ax.set_ylabel(y_label, fontsize=6, color="#444444")
    ax.yaxis.set_label_coords(-0.24, 0.5)
    ax.grid(False)

fig.savefig("out.png", dpi=100, facecolor="white")
